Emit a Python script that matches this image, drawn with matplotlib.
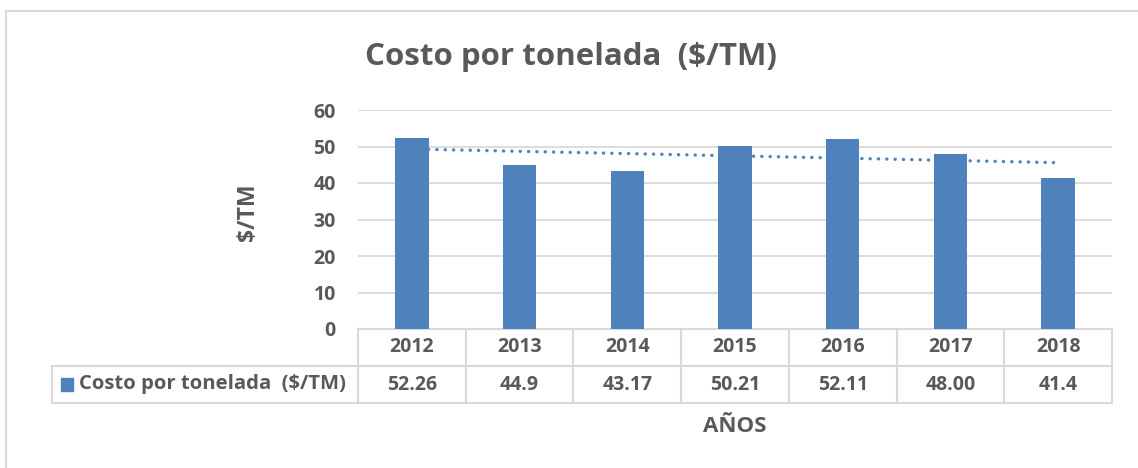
import numpy as np
import matplotlib
matplotlib.use("Agg")
import matplotlib.pyplot as plt
from matplotlib.lines import Line2D
from matplotlib.patches import Rectangle

# data
years = ["2012", "2013", "2014", "2015", "2016", "2017", "2018"]
costs = [52.26, 44.9, 43.17, 50.21, 52.11, 48.00, 41.4]
cost_labels = ["52.26", "44.9", "43.17", "50.21", "52.11", "48.00", "41.4"]
series_name = "Costo por tonelada  ($/TM)"
yticks = [0, 10, 20, 30, 40, 50, 60]

plt.rcParams['font.family'] = ['Open Sans', 'DejaVu Sans']
txt = "#595959"
grid_c = "#d9d9d9"
bar_c = "#4f81bd"

W, H = 1138, 468
fig = plt.figure(figsize=(W / 100, H / 100), dpi=100)

# outer chart border (right and bottom edges fall outside the picture)
fig.add_artist(Line2D([6 / W, 6 / W], [0, 1 - 11 / H], transform=fig.transFigure, color=grid_c, lw=1.5))
fig.add_artist(Line2D([6 / W, 1], [1 - 11 / H, 1 - 11 / H], transform=fig.transFigure, color=grid_c, lw=1.5))

x0, x1 = 358, 1112
y_top, y_zero = 110, 329
ax = fig.add_axes([x0 / W, 1 - y_zero / H, (x1 - x0) / W, (y_zero - y_top) / H])

x = np.arange(len(years))
ax.bar(x, costs, width=0.31, color=bar_c, zorder=3)

# linear trend line
k, b = np.polyfit(x, costs, 1)
ax.plot(x, k * x + b, color=bar_c, lw=2.4, linestyle=(0, (0.05, 2.45)),
        dash_capstyle="round", zorder=4)

ax.set_xlim(-0.5, len(years) - 0.5)
ax.set_ylim(0, 60)
ax.set_yticks(yticks)
ax.yaxis.grid(True, color=grid_c, lw=1.3, zorder=0)
ax.set_xticks([])
for s in ax.spines.values():
    s.set_visible(False)
ax.tick_params(axis="y", length=0, pad=16, labelsize=14, labelcolor=txt)
for lab in ax.get_yticklabels():
    lab.set_fontweight("bold")

# data table under the axis
row_h = 37 / (y_zero - y_top)
leg_left = (52 - x0) / (x1 - x0)
tr = ax.get_xaxis_transform()
lkw = dict(color=grid_c, lw=1.5, clip_on=False)
# horizontal lines
ax.plot([-0.5, len(years) - 0.5], [0, 0], transform=tr, **lkw)
ax.plot([leg_left, 1], [-row_h, -row_h], transform=ax.transAxes, **lkw)
ax.plot([leg_left, 1], [-2 * row_h, -2 * row_h], transform=ax.transAxes, **lkw)
# vertical lines
for i in range(len(years) + 1):
    ax.plot([i - 0.5, i - 0.5], [0, -2 * row_h], transform=tr, **lkw)
ax.plot([leg_left, leg_left], [-row_h, -2 * row_h], transform=ax.transAxes, **lkw)

for i, (yr, v) in enumerate(zip(years, cost_labels)):
    ax.text(i, -0.5 * row_h, yr, transform=tr, ha="center", va="center",
            fontsize=14, fontweight="bold", color=txt)
    ax.text(i, -1.5 * row_h, v, transform=tr, ha="center", va="center",
            fontsize=14, fontweight="bold", color=txt)

# legend key inside the table
ax.add_patch(Rectangle(((61 - x0) / (x1 - x0), -1.5 * row_h - 0.03), 12 / (x1 - x0), 0.06,
                       transform=ax.transAxes, color=bar_c, clip_on=False))
ax.text((79 - x0) / (x1 - x0), -1.5 * row_h, series_name, transform=ax.transAxes,
        ha="left", va="center", fontsize=14.6, fontweight="bold", color=txt)

fig.text(571 / W, 1 - 57 / H, "Costo por tonelada  ($/TM)", ha="center", va="center",
         fontsize=22.5, fontweight="bold", color=txt)
fig.text(248 / W, 1 - 212 / H, "$/TM", ha="center", va="center", rotation=90,
         fontsize=16.5, fontweight="bold", color=txt)
fig.text(735 / W, 1 - 427 / H, "AÑOS", ha="center", va="center",
         fontsize=16, fontweight="bold", color=txt)

fig.savefig("out.png", dpi=100, facecolor="white")
